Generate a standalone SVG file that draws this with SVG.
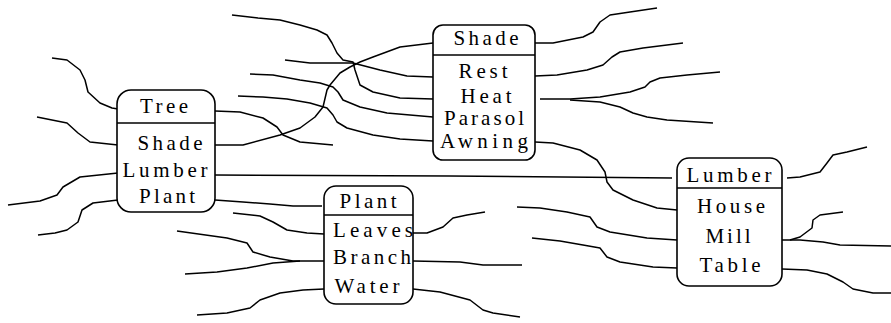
<svg xmlns="http://www.w3.org/2000/svg" width="891" height="323" viewBox="0 0 891 323">
  <style>
    .box { fill: #ffffff; stroke: #000000; stroke-width: 1.6; }
    .rule { stroke: #000000; stroke-width: 1.6; }
    .wire { fill: none; stroke: #000000; stroke-width: 1.5; stroke-linejoin: round; stroke-linecap: butt; }
    .lbl { font-family: "Liberation Serif", "Times New Roman", serif; font-size: 21px; fill: #000000; text-anchor: middle; }
  </style>

  <rect width="891" height="323" fill="#ffffff"/>

  <!-- connectors -->
  <g id="connectors">
    <polyline class="wire" points="52,58 67,60 80,70 85,80 88,92 100,103 112,108 118,109"/>
    <polyline class="wire" points="37,117 67,123 78,133 90,142 118,145"/>
    <polyline class="wire" points="118,173 80,177 63,187 57,195 40,201 8,205"/>
    <polyline class="wire" points="118,200 93,203 82,210 78,222 67,230 55,233 38,235"/>
    <polyline class="wire" points="215,111 240,112 263,118 277,127 283,135 300,142 333,145"/>
    <polyline class="wire" points="215,145 243,145 280,135 300,128 315,117 323,107 327,90 330,85 340,73 350,67 360,62 373,57 400,47 433,43"/>
    <polyline class="wire" points="215,175 450,176 672,178"/>
    <polyline class="wire" points="232,15 258,18 280,20 300,25 317,30 327,35 332,43 337,53 343,60 353,62 355,70 360,85 373,92 400,98 433,99"/>
    <polyline class="wire" points="285,60 310,63 353,63 380,70 407,76 433,77"/>
    <polyline class="wire" points="250,74 273,75 300,80 320,83 333,87 338,92 343,100 360,107 387,113 433,117"/>
    <polyline class="wire" points="238,96 263,97 287,99 310,103 327,108 333,115 337,122 347,128 373,135 400,139 433,141"/>
    <polyline class="wire" points="215,200 243,202 270,204 293,206 322,206"/>
    <polyline class="wire" points="535,43 553,43 583,37 593,32 600,22 610,15 630,12 657,8"/>
    <polyline class="wire" points="535,76 557,75 587,70 603,65 612,57 620,52 643,48 683,43"/>
    <polyline class="wire" points="540,99 570,99 600,97 630,92 645,87 650,82 660,78 687,75 720,72"/>
    <polyline class="wire" points="570,100 600,102 620,107 633,113 647,117 667,120 713,123"/>
    <polyline class="wire" points="535,142 553,143 580,150 597,160 605,172 607,182 613,190 633,200 657,208 677,210"/>
    <polyline class="wire" points="677,240 647,238 610,232 597,227 590,217 567,212 540,208 517,207"/>
    <polyline class="wire" points="677,268 653,267 620,262 607,257 600,248 583,245 560,241 532,238"/>
    <polyline class="wire" points="787,178 800,177 820,172 827,163 833,155 847,152 867,147"/>
    <polyline class="wire" points="782,240 800,240 823,242 840,245 891,246"/>
    <polyline class="wire" points="790,240 800,237 812,228 813,220 820,215 843,212"/>
    <polyline class="wire" points="782,269 807,270 827,274 843,282 853,289 873,293 891,293"/>
    <polyline class="wire" points="324,234 307,233 287,230 273,222 260,216 233,213"/>
    <polyline class="wire" points="324,261 293,261 270,257 253,252 247,243 227,238 177,231"/>
    <polyline class="wire" points="300,261 273,263 247,268 217,272 185,274"/>
    <polyline class="wire" points="324,289 303,290 280,293 260,300 250,308 227,313 197,315"/>
    <polyline class="wire" points="413,233 427,233 443,227 453,218 467,215 485,212"/>
    <polyline class="wire" points="413,261 460,262 483,265 522,265"/>
    <polyline class="wire" points="413,289 440,292 470,300 483,310 493,313 520,317"/>
  </g>

  <!-- Tree -->
  <g id="node-tree">
    <rect class="box" x="117" y="90" width="98" height="122" rx="14"/>
    <line class="rule" x1="117" y1="123" x2="215" y2="123"/>
    <text class="lbl" x="164" y="113" textLength="48" lengthAdjust="spacing">Tree</text>
    <text class="lbl" x="170" y="150" textLength="65" lengthAdjust="spacing">Shade</text>
    <text class="lbl" x="165" y="177" textLength="85" lengthAdjust="spacing">Lumber</text>
    <text class="lbl" x="167" y="203" textLength="56" lengthAdjust="spacing">Plant</text>
  </g>

  <!-- Shade -->
  <g id="node-shade">
    <rect class="box" x="433" y="25" width="102" height="135" rx="10"/>
    <line class="rule" x1="433" y1="55" x2="535" y2="55"/>
    <text class="lbl" x="486" y="45" textLength="65" lengthAdjust="spacing">Shade</text>
    <text class="lbl" x="483" y="78" textLength="49" lengthAdjust="spacing">Rest</text>
    <text class="lbl" x="486" y="103" textLength="51" lengthAdjust="spacing">Heat</text>
    <text class="lbl" x="484" y="125" textLength="80" lengthAdjust="spacing">Parasol</text>
    <text class="lbl" x="484" y="148" textLength="88" lengthAdjust="spacing">Awning</text>
  </g>

  <!-- Plant -->
  <g id="node-plant">
    <rect class="box" x="324" y="186" width="89" height="118" rx="12"/>
    <line class="rule" x1="324" y1="215" x2="413" y2="215"/>
    <text class="lbl" x="368" y="208" textLength="57" lengthAdjust="spacing">Plant</text>
    <text class="lbl" x="373" y="237" textLength="80" lengthAdjust="spacing">Leaves</text>
    <text class="lbl" x="372" y="264" textLength="78" lengthAdjust="spacing">Branch</text>
    <text class="lbl" x="367" y="293" textLength="65" lengthAdjust="spacing">Water</text>
  </g>

  <!-- Lumber -->
  <g id="node-lumber">
    <rect class="box" x="677" y="158" width="105" height="128" rx="12"/>
    <line class="rule" x1="677" y1="188" x2="782" y2="188"/>
    <text class="lbl" x="729" y="182" textLength="85" lengthAdjust="spacing">Lumber</text>
    <text class="lbl" x="731" y="213" textLength="68" lengthAdjust="spacing">House</text>
    <text class="lbl" x="728" y="243" textLength="45" lengthAdjust="spacing">Mill</text>
    <text class="lbl" x="730" y="272" textLength="61" lengthAdjust="spacing">Table</text>
  </g>
</svg>
